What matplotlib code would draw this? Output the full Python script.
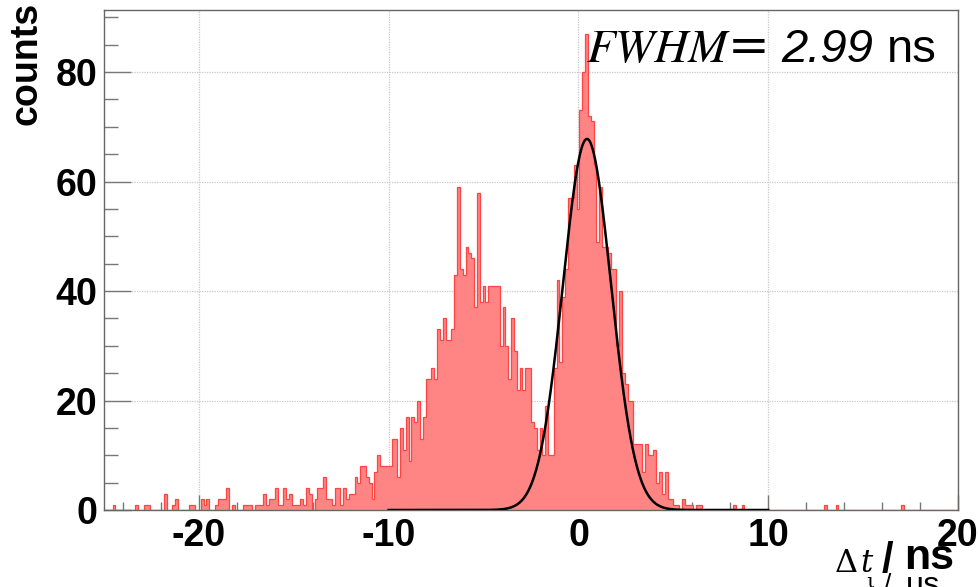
import numpy as np
import matplotlib
matplotlib.use("Agg")
import matplotlib.pyplot as plt
from matplotlib.ticker import FixedLocator, MultipleLocator

# ---------------- data ----------------
x_min, x_max = -25.0, 20.0
counts = [
    # -25.0 .. -22.0
    0, 0, 0, 1, 0, 0, 0, 0, 0, 0, 0, 1, 0, 0, 1, 1, 0, 0, 0, 0,
    # -22.0 .. -19.0
    0, 3, 0, 0, 1, 2, 0, 0, 0, 0, 1, 1, 0, 0, 2, 1, 2, 0, 0, 1,
    # -19.0 .. -16.0
    2, 2, 2, 4, 0, 1, 0, 0, 0, 1, 1, 1, 0, 1, 1, 1, 3, 1, 2, 2,
    # -16.0 .. -13.0
    4, 1, 1, 4, 2, 3, 1, 1, 1, 2, 1, 4, 3, 0, 2, 4, 4, 6, 2, 2,
    # -13.0 .. -10.0
    1, 4, 4, 1, 4, 2, 3, 3, 6, 5, 8, 8, 6, 5, 2, 7, 10, 8, 8, 8,
    # -10.0 .. -7.0
    8, 13, 13, 6, 15, 11, 17, 9, 17, 16, 20, 13, 17, 24, 24, 26, 24, 33, 31, 35,
    # -7.0 .. -4.0
    31, 31, 33, 43, 59, 44, 43, 48, 47, 46, 37, 58, 38, 41, 38, 41, 41, 41, 41, 30,
    # -4.0 .. -1.0
    37, 30, 24, 35, 29, 22, 26, 22, 26, 26, 16, 15, 11, 15, 10, 19, 10, 10, 26, 42,
    # -1.0 .. 2.0
    27, 39, 44, 57, 57, 63, 55, 73, 80, 87, 72, 71, 63, 49, 59, 48, 48, 47, 44, 44,
    # 2.0 .. 5.0
    30, 40, 25, 23, 20, 20, 12, 12, 12, 7, 12, 10, 10, 11, 5, 7, 3, 7, 2, 2,
    # 5.0 .. 8.0
    1, 1, 0, 2, 1, 1, 1, 0, 1, 1, 0, 0, 0, 0, 0, 0, 0, 0, 0, 0,
    # 8.0 .. 11.0
    0, 1, 0, 0, 1, 0, 0, 0, 0, 0, 0, 0, 0, 0, 0, 0, 0, 0, 0, 0,
    # 11.0 .. 14.0
    0, 0, 0, 0, 0, 0, 0, 0, 0, 0, 0, 0, 0, 1, 0, 0, 0, 1, 0, 0,
    # 14.0 .. 17.0
    0, 0, 0, 0, 0, 0, 0, 0, 0, 0, 0, 0, 0, 0, 0, 0, 0, 0, 0, 0,
    # 17.0 .. 20.0
    1, 0, 0, 0, 0, 0, 0, 0, 0, 0, 0, 0, 0, 0, 0, 0, 0, 0, 0, 0,
]

fit_amp = 67.8
fit_mean = 0.45
fit_sigma = 1.27
fit_range = (-10.0, 10.0)
fwhm_value = "2.99"

x_ticks = [-20, -10, 0, 10, 20]
x_tick_labels = ["-20", "-10", "0", "10", "20"]
y_ticks = [0, 20, 40, 60, 80]
y_tick_labels = ["0", "20", "40", "60", "80"]
y_max = 91.35

# ---------------- plot ----------------
plt.rcParams["axes.unicode_minus"] = False
W, H = 979, 587
fig = plt.figure(figsize=(W / 100, H / 100), dpi=100)
ax = fig.add_axes([104 / W, 1 - 510 / H, (958 - 104) / W, (510 - 10) / H])

edges = np.linspace(x_min, x_max, len(counts) + 1)
ax.stairs(counts, edges, fill=True, color="#ff8585", zorder=2)
ax.stairs(counts, edges, color="#ff4444", lw=0.9, zorder=3)

xs = np.linspace(fit_range[0], fit_range[1], 1000)
ys = fit_amp * np.exp(-0.5 * ((xs - fit_mean) / fit_sigma) ** 2)
ax.plot(xs, ys, color="black", lw=1.8, zorder=4)

ax.set_xlim(x_min, x_max)
ax.set_ylim(0, y_max)

ax.xaxis.set_major_locator(FixedLocator(x_ticks))
ax.xaxis.set_minor_locator(MultipleLocator(2))
ax.yaxis.set_major_locator(FixedLocator(y_ticks))
ax.yaxis.set_minor_locator(MultipleLocator(5))
ax.set_xticklabels(x_tick_labels)
ax.set_yticklabels(y_tick_labels)

for lab in ax.get_xticklabels() + ax.get_yticklabels():
    lab.set_fontfamily("Liberation Sans")
    lab.set_fontweight("bold")
    lab.set_fontsize(27)

ax.tick_params(axis="both", which="both", direction="in", top=False, right=False,
               colors="#777777", labelcolor="black", width=1.0)
ax.tick_params(axis="x", which="major", length=10.8, pad=6)
ax.tick_params(axis="x", which="minor", length=5.6)
ax.tick_params(axis="y", which="major", length=19.5, pad=5)
ax.tick_params(axis="y", which="minor", length=10)

ax.grid(True, which="major", color="#c8c8c8", linestyle=(0, (1, 1)), lw=0.9, zorder=0)
ax.set_axisbelow(True)
for side in ["left", "bottom", "top", "right"]:
    ax.spines[side].set_color("#666666")
    ax.spines[side].set_linewidth(1.0)

# y-axis title
fig.text(27 / W, 1 - 2 / H, "counts", rotation=90, ha="center", va="top",
         fontfamily="Liberation Sans", fontweight="bold", fontsize=27)

# FWHM annotation
def px(x, y):
    return x / W, 1 - y / H

fig.text(*px(587, 62), "FWHM", fontfamily="STIXGeneral", fontstyle="italic",
         fontsize=34, ha="left", va="baseline")
fig.text(*px(728, 62), "=", fontfamily="DejaVu Sans", fontsize=36,
         ha="left", va="baseline")
fig.text(*px(781, 62), fwhm_value, fontfamily="Liberation Sans", fontstyle="italic",
         fontsize=34, ha="left", va="baseline")
fig.text(*px(887, 62), "ns", fontfamily="Liberation Sans", fontsize=34,
         ha="left", va="baseline")

# x-axis title (with partly hidden old unit underneath)
fig.text(*px(835, 572), "\u0394", fontfamily="DejaVu Serif", fontsize=23,
         ha="left", va="baseline")
fig.text(*px(860, 572), "t", fontfamily="DejaVu Serif", fontstyle="italic",
         fontsize=22, ha="left", va="baseline")
fig.text(*px(866, 588), "\u03b9", fontfamily="DejaVu Serif", fontsize=15,
         ha="left", va="baseline")
fig.text(*px(884, 592), "/", fontfamily="Liberation Sans", fontsize=19,
         ha="left", va="baseline")
fig.text(*px(906, 594), "\u00b5s", fontfamily="Liberation Sans", fontsize=23,
         ha="left", va="baseline")
fig.text(*px(882, 572), "/", fontfamily="Liberation Sans", fontweight="bold",
         fontsize=30, ha="left", va="baseline")
fig.text(*px(904, 569), "ns", fontfamily="Liberation Sans", fontweight="bold",
         fontsize=31, ha="left", va="baseline")

fig.savefig("out.png", dpi=100)
